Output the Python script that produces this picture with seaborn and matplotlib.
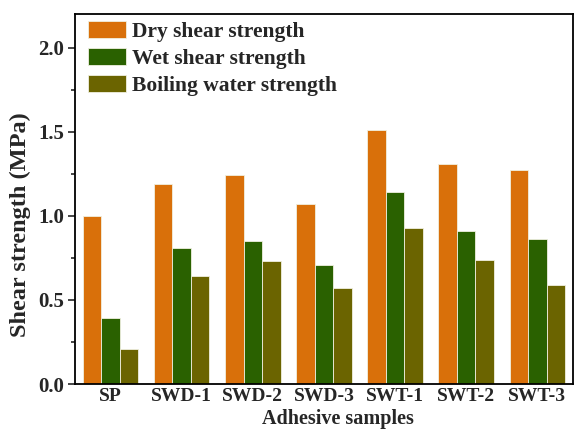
import matplotlib
matplotlib.use("Agg")
import matplotlib.pyplot as plt
import seaborn as sns
import pandas as pd
from matplotlib.ticker import MultipleLocator

samples = ["SP", "SWD-1", "SWD-2", "SWD-3", "SWT-1", "SWT-2", "SWT-3"]
dry = [1.00, 1.19, 1.24, 1.07, 1.51, 1.31, 1.27]
wet = [0.39, 0.81, 0.85, 0.71, 1.14, 0.91, 0.86]
boil = [0.21, 0.64, 0.73, 0.57, 0.93, 0.74, 0.59]
series = ["Dry shear strength", "Wet shear strength", "Boiling water strength"]
colors = ["#D9700A", "#2A6100", "#6B6400"]

rows = []
for name, vals in zip(series, [dry, wet, boil]):
    for s, v in zip(samples, vals):
        rows.append({"Sample": s, "Series": name, "Value": v})
df = pd.DataFrame(rows)

sns.set_style("ticks")
plt.rcParams['font.family'] = ['Liberation Serif', 'DejaVu Serif']
plt.rcParams['font.weight'] = 'bold'

fig = plt.figure(figsize=(5.79, 4.33), dpi=100)
ax = fig.add_axes([0.1295, 0.113, 0.86, 0.855])
sns.barplot(data=df, x="Sample", y="Value", hue="Series", palette=colors,
            width=0.78, gap=0, saturation=1, edgecolor="#f0f0e0", linewidth=0.6, ax=ax)

ax.set_ylim(0, 2.2)
ax.set_xlim(-0.5, 6.5)
ax.yaxis.set_minor_locator(MultipleLocator(0.25))
ax.set_yticks([0, 0.5, 1.0, 1.5, 2.0])
ax.set_yticklabels(["0.0", "0.5", "1.0", "1.5", "2.0"])
ax.tick_params(axis='y', which='major', length=5, width=1.2, labelsize=15, direction='out', pad=3)
ax.tick_params(axis='y', which='minor', length=3, width=1.2, direction='out')
ax.tick_params(axis='x', length=0, labelsize=14, pad=3)
for lab in ax.get_xticklabels() + ax.get_yticklabels():
    lab.set_fontweight('bold')
for sp in ax.spines.values():
    sp.set_linewidth(1.3)
    sp.set_color('black')
ax.set_xlabel("Adhesive samples", fontsize=14.5, fontweight='bold')
ax.set_ylabel("Shear strength (MPa)", fontsize=17.5, fontweight='bold')
ax.xaxis.set_label_coords(0.529, -0.067)
ax.yaxis.set_label_coords(-0.088, 0.43)

ax.legend(loc='upper left', bbox_to_anchor=(0.0, 1.015), frameon=False, handlelength=1.77,
          handleheight=0.84, labelspacing=0.28, handletextpad=0.28,
          borderaxespad=0.2, prop={'weight': 'bold', 'size': 15.5})

fig.savefig("out.png", dpi=100)
